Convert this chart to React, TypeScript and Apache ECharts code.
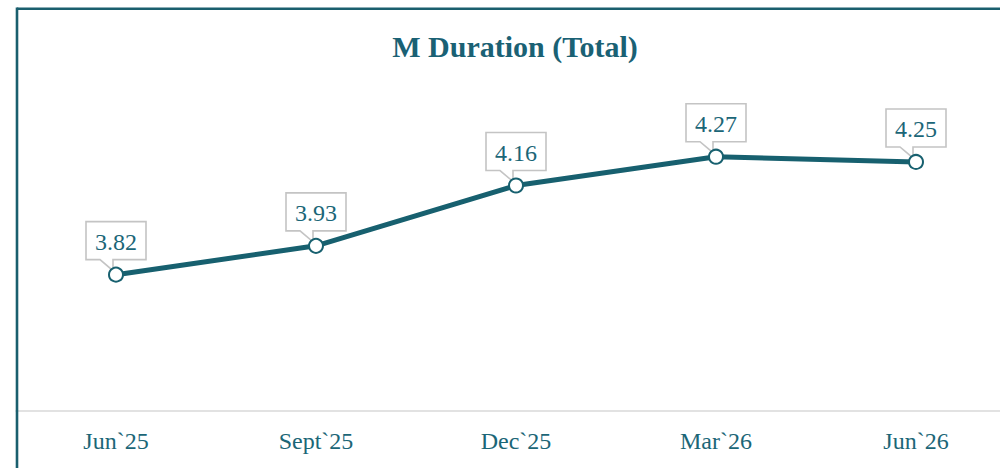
import React, { useEffect, useRef } from "react";
import * as echarts from "echarts";

const categories = ["Jun`25", "Sept`25", "Dec`25", "Mar`26", "Jun`26"];
const durationValues = [3.82, 3.93, 4.16, 4.27, 4.25];
const chartTitle = "M Duration (Total)";

const TEAL = "#17606f";
const TEXT = "#1b6677";
const FONT = "'Liberation Serif', 'Times New Roman', serif";

export default function App() {
  const ref = useRef<HTMLDivElement>(null);
  useEffect(() => {
    if (!ref.current) return;
    const chart = echarts.init(ref.current, null, { renderer: "svg" });
    chart.setOption({
      animation: false,
      backgroundColor: "#ffffff",
      grid: {
        left: 16,
        width: 1000,
        top: 96.4,
        bottom: 57,
        containLabel: false,
        outerBoundsMode: "none",
      },
      xAxis: {
        type: "category",
        data: categories,
        boundaryGap: true,
        axisLine: { show: true, lineStyle: { color: "#d9d9d9", width: 1.5 } },
        axisTick: { show: false },
        axisLabel: { color: TEXT, fontFamily: FONT, fontSize: 24, margin: 18 },
      },
      yAxis: {
        type: "value",
        min: 3.3,
        max: 4.5,
        show: false,
        splitLine: { show: false },
      },
      graphic: [
        {
          type: "line",
          shape: { x1: 17, y1: 8.8, x2: 1000, y2: 8.8 },
          style: { stroke: "#1a5f6e", lineWidth: 2.6 },
          z: 100,
        },
        {
          type: "line",
          shape: { x1: 17, y1: 7.5, x2: 17, y2: 468 },
          style: { stroke: "#1a5f6e", lineWidth: 2.6 },
          z: 100,
        },
        {
          type: "text",
          x: 515,
          y: 46,
          style: {
            text: chartTitle,
            align: "center",
            verticalAlign: "middle",
            font: `bold 30px ${FONT}`,
            fill: "#1a6174",
          },
        },
      ],
      series: [
        {
          type: "custom",
          z: 1,
          data: durationValues.map((v, i) => [i, v]),
          renderItem: (params: any, api: any) => {
            const p = api.coord([api.value(0), api.value(1)]);
            const x = p[0];
            const y = p[1];
            const L = x - 30;
            const R = x + 30;
            const T = y - 53;
            const B = y - 15;
            return {
              type: "group",
              children: [
                {
                  type: "polygon",
                  shape: {
                    points: [
                      [L, T],
                      [R, T],
                      [R, B],
                      [x - 3, B],
                      [x - 3, y - 4],
                      [x - 16, B],
                      [L, B],
                    ],
                  },
                  style: { fill: "#ffffff", stroke: "#c4c4c4", lineWidth: 1.6 },
                },
                {
                  type: "text",
                  style: {
                    text: Number(api.value(1)).toFixed(2),
                    x: x,
                    y: (T + B) / 2 + 1,
                    align: "center",
                    verticalAlign: "middle",
                    font: `24px ${FONT}`,
                    fill: TEXT,
                  },
                },
              ],
            };
          },
        },
        {
          type: "line",
          z: 3,
          data: durationValues,
          symbol: "circle",
          symbolSize: 14,
          lineStyle: { color: TEAL, width: 5 },
          itemStyle: { color: "#ffffff", borderColor: TEAL, borderWidth: 2 },
          label: { show: false },
        },
      ],
    });
    return () => chart.dispose();
  }, []);
  return (
    <div
      ref={ref}
      style={{ position: "fixed", left: 0, top: 0, width: 1000, height: 468 }}
    />
  );
}
